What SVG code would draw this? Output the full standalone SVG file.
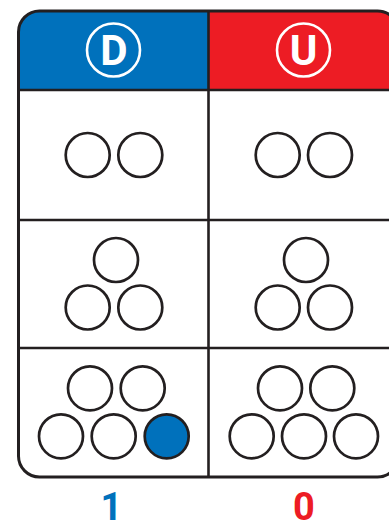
<svg xmlns="http://www.w3.org/2000/svg" width="389" height="531" viewBox="0 0 389 531">
<style>
.c{fill:#fff;stroke:#231f20;stroke-width:2.7}
.f{fill:#0071bc}
.ln{stroke:#231f20;stroke-width:2.6;fill:none}
.hd{fill:none;stroke:#fff;stroke-width:2.6}
.ht{font-family:Roboto,"Liberation Sans",sans-serif;font-weight:bold;font-size:42px;fill:#fff;text-anchor:middle}
.num{font-family:Roboto,"Liberation Sans",sans-serif;font-weight:bold;font-size:38px;text-anchor:middle}
</style>
<rect x="18.5" y="11" width="380" height="466" rx="21" fill="#fff"/>
<path d="M18.5 90 V32 A21 21 0 0 1 39.5 11 H208.5 V90 Z" fill="#0071bc"/>
<path d="M208.5 90 V11 H377.5 A21 21 0 0 1 398.5 32 V90 Z" fill="#ed1c24"/>
<g id="connectors">
<line class="ln" x1="18.5" y1="90" x2="398.5" y2="90"/>
<line class="ln" x1="18.5" y1="220" x2="398.5" y2="220"/>
<line class="ln" x1="18.5" y1="348" x2="398.5" y2="348"/>
<line class="ln" x1="208.5" y1="11" x2="208.5" y2="477"/>
</g>
<rect x="18.5" y="11" width="380" height="466" rx="21" fill="none" stroke="#231f20" stroke-width="3"/>
<g id="header-D">
<circle class="hd" cx="113.5" cy="50" r="26.5"/>
<text class="ht" x="114" y="64.5">D</text>
</g>
<g id="header-U">
<circle class="hd" cx="303.5" cy="50" r="26.5"/>
<text class="ht" x="303.5" y="64.5">U</text>
</g>
<g id="row1-D">
<circle class="c" cx="87.7" cy="155" r="22"/>
<circle class="c" cx="140.3" cy="155" r="22"/>
</g>
<g id="row1-U">
<circle class="c" cx="277.7" cy="155" r="22"/>
<circle class="c" cx="330" cy="155" r="22"/>
</g>
<g id="row2-D">
<circle class="c" cx="116" cy="260" r="22"/>
<circle class="c" cx="87.7" cy="307.5" r="22"/>
<circle class="c" cx="140.3" cy="307.5" r="22"/>
</g>
<g id="row2-U">
<circle class="c" cx="306" cy="260" r="22"/>
<circle class="c" cx="277.7" cy="307.5" r="22"/>
<circle class="c" cx="330" cy="307.5" r="22"/>
</g>
<g id="row3-D">
<circle class="c" cx="90" cy="388.3" r="22"/>
<circle class="c" cx="142.7" cy="388.3" r="22"/>
<circle class="c" cx="61" cy="436.3" r="22"/>
<circle class="c" cx="113.7" cy="436.3" r="22"/>
<circle class="c f" cx="166.7" cy="436.3" r="22"/>
</g>
<g id="row3-U">
<circle class="c" cx="280" cy="388.3" r="22"/>
<circle class="c" cx="332.3" cy="388.3" r="22"/>
<circle class="c" cx="251.7" cy="436.3" r="22"/>
<circle class="c" cx="304" cy="436.3" r="22"/>
<circle class="c" cx="356" cy="436.3" r="22"/>
</g>
<g id="labels">
<text class="num" x="111.5" y="520" fill="#0071bc">1</text>
<text class="num" x="304" y="520" fill="#ed1c24">0</text>
</g>
</svg>
